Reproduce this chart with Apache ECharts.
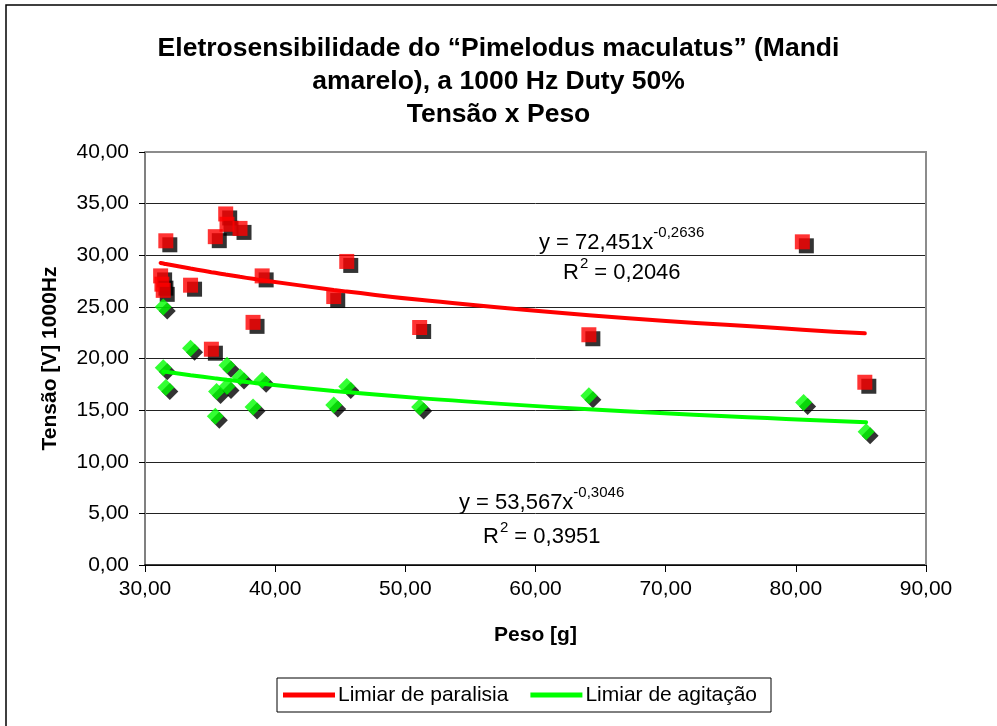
<!DOCTYPE html>
<html><head><meta charset="utf-8">
<script src="https://cdn.jsdelivr.net/npm/echarts@6/dist/echarts.min.js"></script>
<style>html,body{margin:0;padding:0;background:#fff}#c{width:997px;height:726px}</style>
</head><body><div id="c"></div><script>
// ---- data ----
const pesoParalisia   = [31.6, 36.2, 36.3, 37.3, 35.4, 31.2, 31.3, 31.4, 33.5, 39.0, 38.3, 35.1, 45.5, 44.5, 51.1, 64.1, 80.5, 85.3];
const tensaoParalisia = [31.4, 34.0, 33.0, 32.6, 31.8, 28.0, 27.2, 26.6, 27.1, 28.0, 23.5, 20.9, 29.4, 26.0, 23.0, 22.3, 31.3, 17.7];
const pesoAgitacao    = [31.4, 33.5, 31.4, 31.6, 36.3, 37.3, 39.0, 35.5, 36.3, 35.4, 38.3, 45.5, 44.5, 51.1, 64.1, 80.6, 85.4];
const tensaoAgitacao  = [25.0, 21.0, 19.1, 17.2, 19.35, 18.2, 17.9, 16.8, 17.3, 14.4, 15.3, 17.3, 15.5, 15.3, 16.4, 15.75, 12.9];
// power trend lines shown on the chart: y = a * x^b
const trendParalisia = [72.451, -0.2636];
const trendAgitacao  = [53.567, -0.3046];
const eqParalisia = ['y = 72,451x', '-0,2636', 'R', '2', ' = 0,2046'];
const eqAgitacao  = ['y = 53,567x', '-0,3046', 'R', '2', ' = 0,3951'];
const legendNames = ['Limiar de paralisia', 'Limiar de agitação'];
const titleLines = ['Eletrosensibilidade do \u201cPimelodus maculatus\u201d (Mandi', 'amarelo), a 1000 Hz Duty 50%', 'Tensão x Peso'];
const xTicks = [30, 40, 50, 60, 70, 80, 90];
const yTicks = [0, 5, 10, 15, 20, 25, 30, 35, 40];

const FONT = '"Liberation Sans", Arial, sans-serif';
const G = {left: 145, right: 926, top: 152, bottom: 565};

function pairs(xs, ys) { return xs.map((x, i) => [x, ys[i]]); }
function trend(xs, c) {
  const u = Array.from(new Set(xs)).sort((a, b) => a - b);
  return u.map(x => [x, c[0] * Math.pow(x, c[1])]);
}
const fmt = v => v.toFixed(2).replace('.', ',');

const mctx = document.createElement('canvas').getContext('2d');
function tw(text, size) { mctx.font = size + 'px ' + FONT; return mctx.measureText(text).width; }

function eqGraphics(eq, x1, y1, x2, y2) {
  const big = 22, small = 15;
  const w1 = tw(eq[0], big), wR = tw(eq[2], big), w2 = tw(eq[3], small);
  const st = (t, s) => ({text: t, font: s + 'px ' + FONT, fill: '#000', textVerticalAlign: 'middle'});
  return [
    {type: 'text', x: x1, y: y1, style: st(eq[0], big), silent: true, z: 10},
    {type: 'text', x: x1 + w1, y: y1 - 10, style: st(eq[1], small), silent: true, z: 10},
    {type: 'text', x: x2, y: y2, style: st(eq[2], big), silent: true, z: 10},
    {type: 'text', x: x2 + wR + 1, y: y2 - 9, style: st(eq[3], small), silent: true, z: 10},
    {type: 'text', x: x2 + wR + w2 + 1, y: y2, style: st(eq[4], big), silent: true, z: 10}
  ];
}

const chart = echarts.init(document.getElementById('c'));
const shadow = {shadowColor: '#000', shadowBlur: 0, shadowOffsetX: 4, shadowOffsetY: 4};
chart.setOption({
  backgroundColor: '#fff',
  animation: false,
  title: {
    text: titleLines.join('\n'), left: 'center', top: 27,
    textStyle: {fontFamily: FONT, fontWeight: 'bold', fontSize: 26.5, lineHeight: 33, color: '#000'}
  },
  grid: {left: G.left, top: G.top, width: G.right - G.left, height: G.bottom - G.top, show: false},
  legend: {
    data: legendNames.map(n => ({name: n, icon: 'rect'})), left: 277, top: 678, orient: 'horizontal',
    padding: [5, 14, 5, 6], itemGap: 22, itemWidth: 52, itemHeight: 5,
    borderColor: '#000', borderWidth: 1, backgroundColor: '#fff',
    textStyle: {fontFamily: FONT, fontSize: 21, color: '#000', lineHeight: 24, padding: [0, 0, 0, -2]}
  },
  xAxis: {
    type: 'value', min: xTicks[0], max: xTicks[xTicks.length - 1], interval: 10,
    name: 'Peso [g]', nameLocation: 'middle', nameGap: 60,
    nameTextStyle: {fontFamily: FONT, fontWeight: 'bold', fontSize: 21, color: '#000'},
    axisLine: {show: true, onZero: false, lineStyle: {color: '#000', width: 1.5}},
    axisTick: {show: true, inside: false, length: 7, lineStyle: {color: '#000'}},
    axisLabel: {formatter: fmt, fontFamily: FONT, fontSize: 21, color: '#000', margin: 14},
    splitLine: {show: false}
  },
  yAxis: {
    type: 'value', min: yTicks[0], max: yTicks[yTicks.length - 1], interval: 5,
    name: 'Tensão [V] 1000Hz', nameLocation: 'middle', nameGap: 84, nameRotate: 90,
    nameTextStyle: {fontFamily: FONT, fontWeight: 'bold', fontSize: 21, color: '#000'},
    axisLine: {show: true, onZero: false, lineStyle: {color: '#808080', width: 2}},
    axisTick: {show: true, inside: false, length: 6, lineStyle: {color: '#000'}},
    axisLabel: {formatter: fmt, fontFamily: FONT, fontSize: 21, color: '#000', margin: 16},
    splitLine: {show: true, lineStyle: {color: '#222', width: 1}}
  },
  graphic: [
    {type: 'rect', shape: {x: 6, y: 5, width: 1010, height: 740}, style: {fill: null, stroke: '#000', lineWidth: 1.5}, silent: true, z: -1},
    {type: 'polyline', shape: {points: [[G.left, G.top], [G.right, G.top], [G.right, G.bottom]]}, style: {stroke: '#8c8c8c', lineWidth: 2, fill: null}, silent: true, z: 1}
  ].concat(eqGraphics(eqParalisia, 539, 243, 563, 273), eqGraphics(eqAgitacao, 459, 503, 483, 537)),
  series: [
    {type: 'scatter', name: 'Paralisia', data: pairs(pesoParalisia, tensaoParalisia), symbol: 'rect', symbolSize: 15,
      itemStyle: Object.assign({color: '#ff0000'}, shadow), z: 3},
    {type: 'scatter', name: 'Agitação', data: pairs(pesoAgitacao, tensaoAgitacao), symbol: 'diamond', symbolSize: 17,
      itemStyle: Object.assign({color: '#00ff00'}, shadow), z: 3},
    {type: 'line', name: legendNames[0], data: trend(pesoParalisia, trendParalisia), smooth: true, symbol: 'none',
      lineStyle: {color: '#ff0000', width: 4, cap: 'round'}, itemStyle: {color: '#ff0000'}, z: 4},
    {type: 'line', name: legendNames[1], data: trend(pesoAgitacao, trendAgitacao), smooth: true, symbol: 'none',
      lineStyle: {color: '#00ff00', width: 4, cap: 'round'}, itemStyle: {color: '#00ff00'}, z: 4}
  ]
});
</script></body></html>
